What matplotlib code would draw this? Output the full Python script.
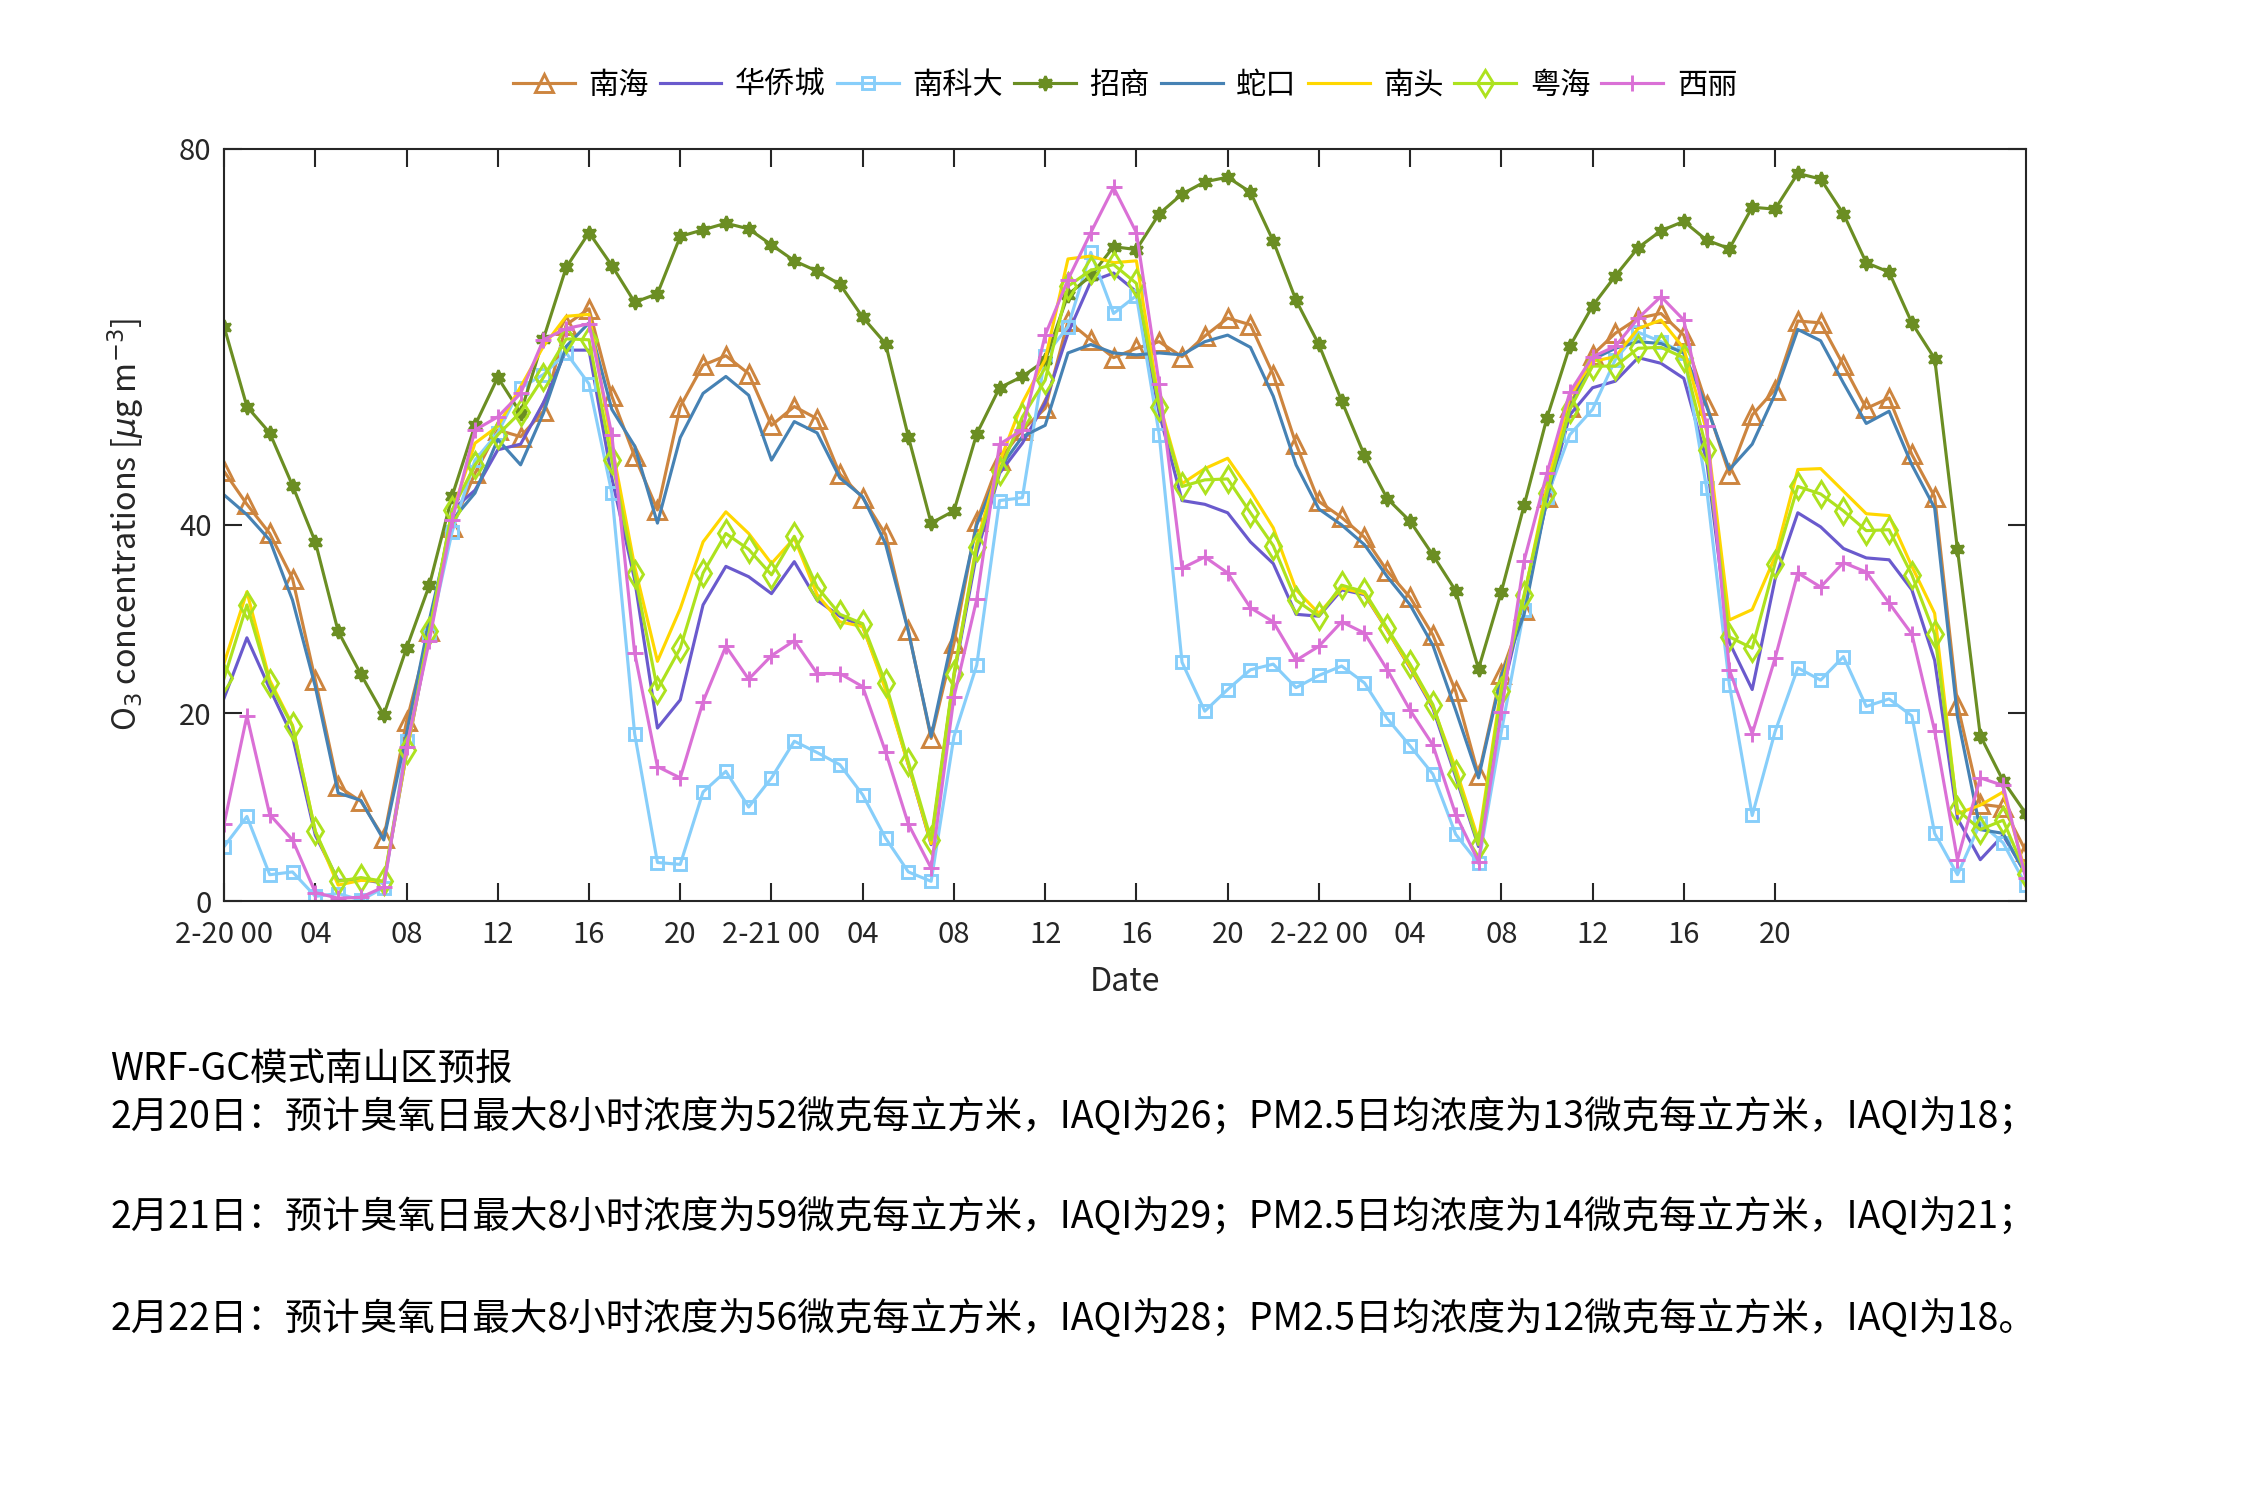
import matplotlib
matplotlib.use('Agg')
import matplotlib.pyplot as plt
import numpy as np

plt.rcParams['font.family'] = ['Noto Sans CJK SC', 'DejaVu Sans']
plt.rcParams['axes.unicode_minus'] = False

# hourly forecast, 2-20 00 .. 2-23 07
hours = np.arange(80)

nanhai = [45.7, 42.2, 39.1, 34.3, 23.5, 12.2, 10.6, 6.7, 19.1, 28.7,
          39.8, 45.5, 50.1, 49.4, 52.1, 61.3, 63.0, 53.7, 47.3, 41.6,
          52.6, 57.0, 58.0, 56.1, 50.6, 52.6, 51.3, 45.4, 42.9, 39.0,
          28.8, 17.3, 27.4, 40.4, 46.9, 50.1, 52.4, 61.7, 59.7, 57.8,
          58.8, 59.5, 57.9, 60.1, 62.0, 61.3, 56.0, 48.6, 42.5, 40.8,
          38.7, 35.1, 32.3, 28.3, 22.3, 13.4, 24.2, 31.0, 43.0, 52.6,
          58.1, 60.4, 62.0, 62.5, 60.2, 52.8, 45.4, 51.7, 54.4, 61.7,
          61.5, 57.0, 52.4, 53.5, 47.5, 43.0, 20.9, 10.3, 10.0, 5.3]
huaqiaocheng = [21.6, 28.0, 22.6, 17.5, 7.0, 2.2, 2.3, 1.9, 15.7, 28.3,
                41.6, 43.7, 48.0, 48.6, 53.0, 58.6, 58.6, 45.0, 34.2, 18.4,
                21.4, 31.5, 35.6, 34.5, 32.7, 36.1, 32.0, 30.3, 29.2, 22.8,
                14.5, 6.0, 23.9, 37.0, 45.5, 48.7, 53.0, 60.4, 65.9, 66.8,
                64.8, 51.9, 42.6, 42.2, 41.3, 38.2, 35.9, 30.5, 30.3, 33.1,
                32.6, 28.8, 24.8, 20.5, 13.2, 5.8, 21.7, 32.0, 42.5, 51.7,
                54.6, 55.3, 57.8, 57.2, 55.6, 46.9, 27.5, 22.5, 34.2, 41.3,
                39.8, 37.5, 36.5, 36.3, 33.1, 25.6, 8.8, 4.4, 7.0, 2.9]
nankeda = [5.8, 9.0, 2.8, 3.1, 0.5, 0.8, 0.1, 1.4, 17.0, 28.3,
           39.3, 46.9, 49.8, 54.6, 56.0, 58.3, 55.0, 43.4, 17.8, 4.1,
           3.9, 11.6, 13.8, 10.0, 13.1, 17.0, 15.8, 14.5, 11.3, 6.7,
           3.1, 2.1, 17.5, 25.1, 42.6, 42.9, 58.0, 61.1, 69.0, 62.5,
           64.4, 49.6, 25.4, 20.2, 22.5, 24.6, 25.2, 22.7, 24.0, 25.0,
           23.2, 19.4, 16.5, 13.5, 7.1, 4.0, 18.0, 31.0, 43.0, 49.6,
           52.3, 57.6, 60.5, 59.5, 58.3, 43.9, 23.0, 9.1, 18.0, 24.8,
           23.5, 26.0, 20.7, 21.5, 19.7, 7.2, 2.8, 8.3, 6.2, 1.7]
zhaoshang = [61.1, 52.6, 49.8, 44.2, 38.2, 28.7, 24.1, 19.8, 26.9, 33.6,
             43.1, 50.6, 55.7, 51.9, 59.8, 67.4, 71.1, 67.6, 63.7, 64.6,
             70.7, 71.4, 72.1, 71.5, 69.8, 68.1, 67.0, 65.6, 62.1, 59.3,
             49.4, 40.2, 41.5, 49.7, 54.6, 55.8, 57.5, 64.5, 66.5, 69.6,
             69.3, 73.1, 75.2, 76.5, 77.0, 75.4, 70.2, 63.9, 59.2, 53.2,
             47.4, 42.8, 40.4, 36.8, 33.0, 24.7, 32.9, 42.1, 51.4, 59.0,
             63.3, 66.5, 69.5, 71.3, 72.3, 70.3, 69.4, 73.8, 73.6, 77.4,
             76.8, 73.1, 67.9, 66.9, 61.5, 57.7, 37.4, 17.6, 12.8, 9.3]
shekou = [43.2, 41.1, 38.4, 32.0, 22.8, 11.5, 10.7, 6.5, 17.8, 29.9,
          40.5, 43.4, 49.1, 46.4, 51.9, 59.0, 61.5, 52.3, 48.4, 40.2,
          49.3, 54.0, 55.8, 53.8, 46.9, 51.0, 49.8, 45.0, 43.0, 38.0,
          28.7, 17.5, 28.8, 40.0, 46.0, 49.4, 50.6, 58.3, 59.2, 58.3,
          58.1, 58.3, 58.1, 59.5, 60.2, 58.9, 53.7, 46.4, 41.7, 40.0,
          37.9, 34.5, 31.5, 27.2, 20.3, 13.1, 23.9, 30.5, 42.8, 52.3,
          57.6, 58.8, 59.5, 59.3, 58.3, 52.6, 45.9, 48.6, 53.9, 60.8,
          59.6, 55.1, 50.8, 52.1, 46.4, 41.8, 19.6, 7.6, 7.2, 2.8]
nantou = [25.3, 32.9, 23.5, 18.7, 7.4, 1.7, 2.2, 2.1, 15.7, 28.5,
          41.3, 48.7, 50.5, 54.7, 59.0, 62.2, 62.4, 48.5, 35.6, 25.5,
          31.1, 38.2, 41.4, 39.1, 35.9, 38.6, 32.6, 29.7, 29.2, 22.5,
          14.5, 6.1, 24.0, 38.1, 46.7, 53.0, 57.6, 68.3, 68.6, 67.9,
          68.1, 53.0, 44.4, 46.0, 47.1, 43.6, 39.7, 33.1, 30.6, 33.3,
          32.7, 28.8, 24.9, 20.7, 14.1, 6.5, 22.8, 32.4, 44.1, 53.7,
          57.4, 57.9, 60.9, 61.8, 58.8, 50.0, 29.9, 31.0, 36.6, 45.9,
          46.0, 43.6, 41.2, 41.0, 35.6, 30.6, 9.3, 10.2, 11.6, 2.9]
yuehai = [23.7, 31.5, 23.2, 18.6, 7.4, 2.1, 2.5, 2.1, 16.1, 28.7,
          41.6, 46.4, 49.6, 52.0, 55.7, 59.8, 59.7, 46.9, 34.8, 22.5,
          26.9, 34.9, 39.1, 37.4, 34.7, 38.8, 33.4, 30.5, 29.5, 23.2,
          14.8, 6.5, 24.2, 37.7, 45.7, 51.5, 55.4, 65.4, 67.1, 67.7,
          65.7, 52.6, 44.1, 44.8, 44.9, 41.3, 37.8, 32.0, 30.3, 33.6,
          32.9, 29.0, 25.2, 20.9, 13.5, 6.0, 22.3, 32.6, 43.4, 52.3,
          56.9, 56.9, 58.8, 58.9, 57.8, 48.0, 28.1, 26.9, 35.9, 44.1,
          43.3, 41.5, 39.4, 39.5, 34.7, 28.4, 9.7, 7.6, 8.6, 2.9]
xili = [8.2, 19.7, 9.2, 6.5, 0.9, 0.3, 0.4, 1.5, 16.4, 27.7,
        40.5, 50.1, 51.5, 54.0, 59.7, 60.9, 61.4, 49.6, 26.4, 14.3,
        13.1, 21.2, 27.1, 23.6, 26.1, 27.7, 24.2, 24.2, 22.8, 15.9,
        8.2, 3.5, 21.7, 32.1, 48.6, 50.1, 60.2, 66.1, 71.1, 75.9,
        71.1, 55.0, 35.4, 36.6, 34.9, 31.2, 29.7, 25.6, 27.1, 29.7,
        28.5, 24.6, 20.3, 16.6, 9.2, 4.2, 20.1, 36.2, 45.5, 54.1,
        57.9, 59.0, 62.0, 64.3, 61.8, 50.5, 24.6, 17.8, 25.8, 34.9,
        33.4, 36.0, 35.0, 31.7, 28.4, 18.1, 4.4, 13.1, 12.3, 2.4]

tick_hours = list(range(0, 69, 4))
tick_labels = ['2-20 00', '04', '08', '12', '16', '20',
               '2-21 00', '04', '08', '12', '16', '20',
               '2-22 00', '04', '08', '12', '16', '20']

notes = ['WRF-GC模式南山区预报',
         '2月20日：预计臭氧日最大8小时浓度为52微克每立方米，IAQI为26；PM2.5日均浓度为13微克每立方米，IAQI为18；',
         '2月21日：预计臭氧日最大8小时浓度为59微克每立方米，IAQI为29；PM2.5日均浓度为14微克每立方米，IAQI为21；',
         '2月22日：预计臭氧日最大8小时浓度为56微克每立方米，IAQI为28；PM2.5日均浓度为12微克每立方米，IAQI为18。']

fig = plt.figure(figsize=(15, 10), dpi=150)
ax = fig.add_axes([0.0996, 0.3993, 0.8008, 0.5014])

lw = 1.5
series = [
    ('南海', nanhai, dict(color='#CD853F', marker='^', ms=8.5, mfc='none', mew=1.4)),
    ('华侨城', huaqiaocheng, dict(color='#6A5ACD')),
    ('南科大', nankeda, dict(color='#87CEFA', marker='s', ms=5.5, mfc='none', mew=1.4)),
    ('招商', zhaoshang, dict(color='#6B8E23', marker=(6, 1, 0), ms=7, mew=1.2)),
    ('蛇口', shekou, dict(color='#4682B4')),
    ('南头', nantou, dict(color='#FFD700')),
    ('粤海', yuehai, dict(color='#ADE21E', marker='d', ms=8.5, mfc='none', mew=1.4)),
    ('西丽', xili, dict(color='#DA70D6', marker='+', ms=8, mew=1.4)),
]
for name, vals, style in series:
    ax.plot(hours, vals, lw=lw, label=name, **style)

ax.set_xlim(0, 79)
ax.set_ylim(0, 80)
ax.set_xticks(tick_hours)
ax.set_xticklabels(tick_labels)
ax.set_yticks([0, 20, 40, 80])
ax.tick_params(direction='in', top=True, right=True, length=8.5, width=1,
               labelsize=14, colors='#262626')
ax.tick_params(axis='x', pad=9)
ax.tick_params(axis='y', pad=6)
for sp in ax.spines.values():
    sp.set_linewidth(1)
    sp.set_color('#262626')

ax.set_xlabel('Date', fontsize=15.5, color='#262626')
ax.xaxis.set_label_coords(0.5, -0.086)
ax.set_ylabel('O$_3$ concentrations [$\\mu$g m$^{-3}$]', fontsize=15.5, color='#262626')
ax.yaxis.set_label_coords(-0.043, 0.5)

handles, labels = ax.get_legend_handles_labels()
fig.legend(handles, labels, loc='center', bbox_to_anchor=(0.5, 0.943), ncol=8,
           frameon=False, fontsize=14.5, handlelength=2.05, handletextpad=0.45,
           columnspacing=0.36, numpoints=1)

ys = [0.287, 0.255, 0.188, 0.120]
for y, t in zip(ys, notes):
    fig.text(0.049, y, t, fontsize=18, va='center', ha='left', color='black')

fig.savefig('out.png', dpi=150)
